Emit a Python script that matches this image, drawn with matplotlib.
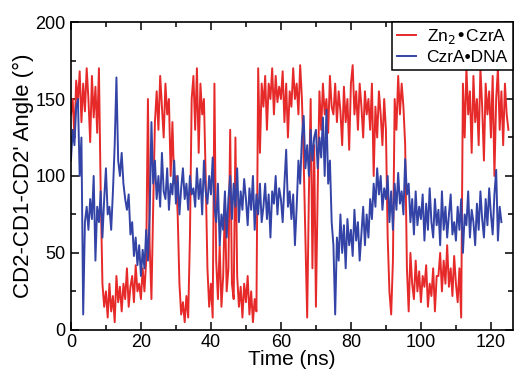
import numpy as np
import matplotlib
matplotlib.use("Agg")
import matplotlib.pyplot as plt
from matplotlib.ticker import MultipleLocator

# -------------------------------------------------------
# Data (angle in degrees, 0.5 ns steps).
# -------------------------------------------------------

dt = 0.5

zn_czra = [
    140, 150, 125, 162, 148, 168, 135, 160, 142, 170,
    150, 122, 165, 138, 158, 128, 170, 90, 30, 15,
    25, 8, 30, 12, 22, 5, 35, 18, 28, 12,
    30, 20, 40, 15, 28, 35, 18, 42, 25, 30,
    20, 40, 25, 45, 150, 55, 20, 80, 135, 155,
    130, 165, 145, 125, 160, 140, 150, 100, 135, 95,
    100, 75, 30, 10, 18, 5, 22, 8, 60, 150,
    165, 130, 170, 115, 160, 140, 150, 100, 40, 15,
    30, 8, 160, 45, 20, 55, 15, 35, 85, 25,
    40, 130, 30, 20, 125, 35, 15, 28, 8, 30,
    18, 35, 10, 25, 5, 20, 12, 170, 115, 160,
    145, 165, 130, 160, 150, 170, 140, 165, 148, 158,
    150, 168, 135, 160, 125, 155, 145, 170, 150, 160,
    140, 172, 150, 110, 60, 8, 90, 150, 40, 120,
    15, 90, 155, 130, 160, 140, 150, 128, 165, 145,
    140, 160, 135, 155, 142, 120, 158, 135, 150, 117,
    160, 172, 140, 155, 130, 160, 145, 125, 155, 140,
    150, 130, 160, 100, 145, 125, 155, 140, 120, 150,
    130, 60, 25, 10, 45, 150, 130, 165, 140, 160,
    145, 120, 40, 12, 50, 30, 20, 45, 25, 38,
    18, 35, 28, 42, 15, 30, 22, 40, 12, 35,
    35, 50, 25, 45, 30, 55, 28, 40, 22, 48,
    30, 18, 40, 8, 160, 125, 170, 140, 155, 115,
    165, 135, 150, 120, 170, 145, 110, 160, 140, 155,
    125, 165, 100, 150, 170, 130, 155, 120, 160, 140,
    130,
]

czra_dna = [
    110, 130, 120, 145, 150, 100, 125, 10, 70, 80,
    65, 85, 72, 100, 45, 80, 70, 90, 60, 85,
    105, 75, 80, 65, 90, 120, 164, 110, 100, 115,
    95, 85, 78, 88, 62, 70, 48, 60, 42, 55,
    35, 52, 40, 65, 45, 75, 135, 95, 110, 85,
    100, 80, 115, 90, 85, 105, 78, 95, 88, 110,
    82, 100, 75, 92, 105, 85, 95, 78, 100, 88,
    92, 80, 105, 85, 98, 75, 110, 90, 82, 100,
    88, 112, 80, 70, 95, 55, 75, 65, 90, 60,
    85, 100, 72, 95, 80, 105, 70, 90, 78, 98,
    85, 68, 92, 78, 100, 65, 88, 75, 95, 70,
    80, 95, 72, 88, 60, 90, 82, 100, 75, 92,
    85, 70, 95, 117, 80, 90, 72, 88, 55, 80,
    110, 95, 125, 139, 105, 120, 100, 130, 110, 125,
    130, 105, 125, 112, 138, 100, 143, 95, 110, 70,
    55, 10, 60, 45, 75, 50, 68, 40, 72, 55,
    65, 48, 78, 58, 70, 45, 62, 80, 55, 75,
    60, 85, 72, 95, 80, 105, 88, 100, 78, 92,
    85, 100, 70, 90, 65, 95, 78, 102, 82, 90,
    75, 111, 88, 95, 70, 85, 62, 90, 68, 80,
    72, 88, 58, 82, 65, 92, 70, 60, 85, 68,
    78, 55, 90, 65, 80, 60, 75, 88, 62, 70,
    58, 80, 65, 85, 50, 75, 68, 90, 60, 78,
    70, 55, 82, 65, 90, 72, 60, 85, 68, 92,
    75, 62, 88, 104, 58, 80, 70,
]

labels = ["Zn$_2$\u2022CzrA", "CzrA\u2022DNA"]

# -------------------------------------------------------
# Draw graph.
# -------------------------------------------------------

plt.rcParams["font.family"] = ["Liberation Sans", "DejaVu Sans"]

fig = plt.figure(figsize=(5.14, 3.74), dpi=100)
ax = fig.add_axes([0.138, 0.118, 0.860, 0.823])

t_red = np.arange(len(zn_czra)) * dt
t_blue = np.arange(len(czra_dna)) * dt
ax.plot(t_red, zn_czra, color="#e62a2a", lw=1.4, label=labels[0])
ax.plot(t_blue, czra_dna, color="#3444a6", lw=1.4, label=labels[1])

ax.set_xlim(0, 126.3)
ax.set_ylim(0, 200)
ax.xaxis.set_major_locator(MultipleLocator(20))
ax.xaxis.set_minor_locator(MultipleLocator(10))
ax.yaxis.set_major_locator(MultipleLocator(50))
ax.yaxis.set_minor_locator(MultipleLocator(25))
ax.tick_params(which="both", direction="in", top=True, right=True,
               width=1.1, labelsize=13)
ax.tick_params(axis="x", pad=3)
ax.tick_params(axis="y", pad=4)
ax.tick_params(which="major", length=6)
ax.tick_params(which="minor", length=3.5)
for s in ax.spines.values():
    s.set_linewidth(1.2)

ax.set_xlabel("Time (ns)", fontsize=15, labelpad=-1)
ax.set_ylabel("CD2-CD1-CD2' Angle (\u00b0)", fontsize=16, labelpad=1)

leg = ax.legend(loc="upper right", fontsize=12.5, frameon=True, fancybox=False,
                borderaxespad=0, handlelength=1.1, handletextpad=0.6,
                borderpad=0.3, labelspacing=0.2)
leg.get_frame().set_edgecolor("black")
leg.get_frame().set_linewidth(1.1)
leg.get_frame().set_alpha(1)

fig.savefig("out.png", dpi=100)
